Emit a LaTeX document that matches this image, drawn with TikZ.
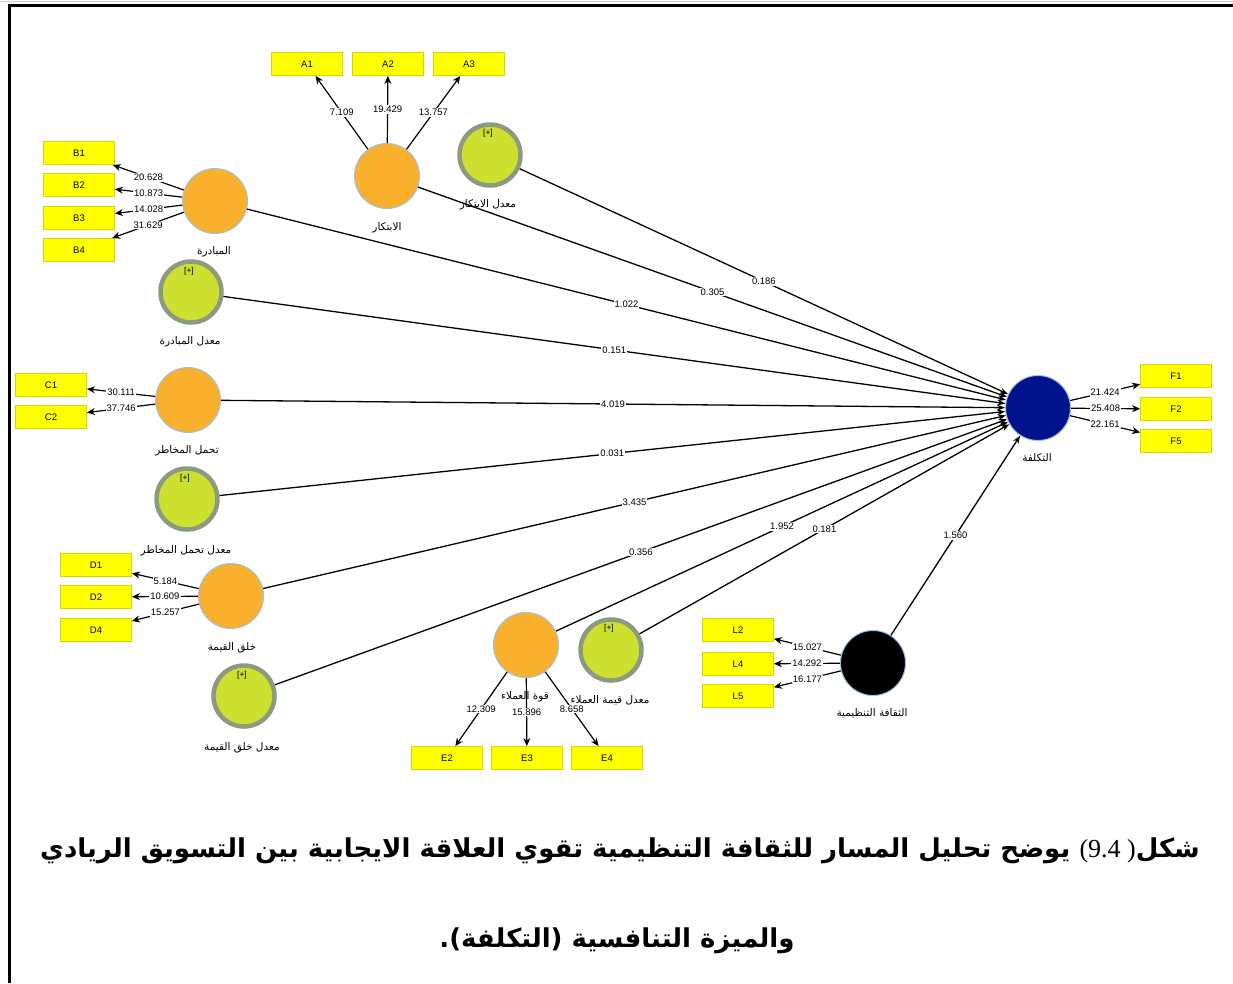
\documentclass[tikz,border=0pt]{standalone}
\usepackage{fontspec}
\setmainfont{Liberation Sans}
\newfontfamily\arabicfont[Script=Arabic]{DejaVu Sans}
\newfontfamily\numserif{Liberation Serif}
\TeXXeTstate=1
\usetikzlibrary{arrows.meta}

\definecolor{boxyellow}{HTML}{FFFF00}
\definecolor{boxedge}{HTML}{D6D600}
\definecolor{lvorange}{HTML}{F9B02C}
\definecolor{lvedge}{HTML}{9CC3E5}
\definecolor{modgreen}{HTML}{CDDF2F}
\definecolor{modring}{HTML}{8C9A80}
\definecolor{navy}{HTML}{00138C}

\tikzset{
  ind/.style={draw=boxedge, fill=boxyellow, line width=0.9pt, minimum width=71pt,
    minimum height=23pt, inner sep=0pt, font=\fontsize{9.5}{10}\selectfont},
  lvbase/.style={circle, inner sep=0pt},
  lv/.style={lvbase, minimum size=65pt, fill=lvorange, draw=lvedge, line width=1pt},
  modc/.style={lvbase, minimum size=61pt, fill=modgreen, draw=modring, line width=4.5pt},
  endo/.style={lvbase, minimum size=65pt, fill=navy, draw=lvedge, line width=1pt},
  culture/.style={lvbase, minimum size=65pt, fill=black, draw=lvedge, line width=1pt},
  num/.style={fill=white, inner sep=1pt, font=\fontsize{9.5}{10}\selectfont},
  arl/.style={font=\arabicfont\fontsize{10.5}{11}\selectfont, inner sep=0pt},
  plus/.style={font=\fontsize{8.5}{9}\selectfont, inner sep=0pt},
  load/.style={line width=1.2pt, -{Stealth[length=8pt,width=7pt]}},
  pathc/.style={line width=1.3pt, -{Stealth[length=8pt,width=6pt]}},
  capt/.style={font=\arabicfont\bfseries\fontsize{26}{30}\selectfont, inner sep=0pt},
}

\begin{document}
\begin{tikzpicture}[x=1pt,y=-1pt]
\useasboundingbox (0,0) rectangle (1233,983);
\fill[white] (0,0) rectangle (1233,983);

% frame
\draw[gray!40, line width=1pt] (0,1.5) -- (1233,1.5);
\draw[black, line width=3pt] (8,5.5) -- (1233,5.5);
\draw[black, line width=3pt] (9.5,4) -- (9.5,983);

% constructs
\node[lv]      (A)  at (387,176) {};
\node[modc]    (mA) at (490,155) {};
\node[lv]      (B)  at (215,201) {};
\node[modc]    (mB) at (191,292) {};
\node[lv]      (C)  at (188,400) {};
\node[modc]    (mC) at (187,499) {};
\node[lv]      (D)  at (231,596) {};
\node[modc]    (mD) at (244,696) {};
\node[lv]      (E)  at (526,645) {};
\node[modc]    (mE) at (611,650) {};
\node[culture] (L)  at (873,663) {};
\node[endo]    (T)  at (1038,408) {};

% [+] marks on the interaction terms
\node[plus] (pA) at (488,133) {[+]};
\node[plus] (pB) at (189,271) {[+]};
\node[plus] (pC) at (185,478) {[+]};
\node[plus] (pD) at (242,675) {[+]};
\node[plus] (pE) at (609,628) {[+]};

% construct names
\node[arl] (nA)  at (387,228) {\beginR الابتكار\endR};
\node[arl] (nmA) at (488,205) {\beginR معدل الابتكار\endR};
\node[arl] (nB)  at (214,252) {\beginR المبادرة\endR};
\node[arl] (nmB) at (190,342) {\beginR معدل المبادرة\endR};
\node[arl] (nC)  at (187,451) {\beginR تحمل المخاطر\endR};
\node[arl] (nmC) at (186,551) {\beginR معدل تحمل المخاطر\endR};
\node[arl] (nD)  at (232,648) {\beginR خلق القيمة\endR};
\node[arl] (nmD) at (242,748) {\beginR معدل خلق القيمة\endR};
\node[arl] (nE)  at (525,697) {\beginR قوة العملاء\endR};
\node[arl] (nmE) at (610,700) {\beginR معدل قيمة العملاء\endR};
\node[arl] (nL)  at (872,713) {\beginR الثقافة التنظيمية\endR};
\node[arl] (nT)  at (1037,458) {\beginR التكلفة\endR};

% indicators
\node[ind] (A1) at (307,64) {A1};
\node[ind] (A2) at (388,64) {A2};
\node[ind] (A3) at (469,64) {A3};
\node[ind] (B1) at (79,153) {B1};
\node[ind] (B2) at (79,185) {B2};
\node[ind] (B3) at (79,218) {B3};
\node[ind] (B4) at (79,250) {B4};
\node[ind] (C1) at (51,385) {C1};
\node[ind] (C2) at (51,417) {C2};
\node[ind] (D1) at (96,565) {D1};
\node[ind] (D2) at (96,597) {D2};
\node[ind] (D4) at (96,630) {D4};
\node[ind] (E2) at (447,758) {E2};
\node[ind] (E3) at (527,758) {E3};
\node[ind] (E4) at (607,758) {E4};
\node[ind] (L2) at (738,630) {L2};
\node[ind] (L4) at (738,664) {L4};
\node[ind] (L5) at (738,696) {L5};
\node[ind] (F1) at (1176,376) {F1};
\node[ind] (F2) at (1176,409) {F2};
\node[ind] (F5) at (1176,441) {F5};

% structural paths
\draw[pathc] (mA) -- node[num]{0.186} (T);
\draw[pathc] (A)  -- node[num]{0.305} (T);
\draw[pathc] (B)  -- node[num]{1.022} (T);
\draw[pathc] (mB) -- node[num]{0.151} (T);
\draw[pathc] (C)  -- node[num]{4.019} (T);
\draw[pathc] (mC) -- node[num]{0.031} (T);
\draw[pathc] (D)  -- node[num]{3.435} (T);
\draw[pathc] (mD) -- node[num]{0.356} (T);
\draw[pathc] (E)  -- node[num]{1.952} (T);
\draw[pathc] (mE) -- node[num]{0.181} (T);
\draw[pathc] (L)  -- node[num]{1.560} (T);

% outer loadings
\draw[load] (A) -- node[num]{7.109} (A1);
\draw[load] (A) -- node[num]{19.429} (A2);
\draw[load] (A) -- node[num]{13.757} (A3);
\draw[load] (B) -- node[num]{20.628} (B1);
\draw[load] (B) -- node[num]{10.873} (B2);
\draw[load] (B) -- node[num]{14.028} (B3);
\draw[load] (B) -- node[num]{31.629} (B4);
\draw[load] (C) -- node[num]{30.111} (C1);
\draw[load] (C) -- node[num]{37.746} (C2);
\draw[load] (D) -- node[num]{5.184} (D1);
\draw[load] (D) -- node[num]{10.609} (D2);
\draw[load] (D) -- node[num]{15.257} (D4);
\draw[load] (E) -- node[num]{12.309} (E2);
\draw[load] (E) -- node[num]{15.896} (E3);
\draw[load] (E) -- node[num]{8.658} (E4);
\draw[load] (L) -- node[num]{15.027} (L2);
\draw[load] (L) -- node[num]{14.292} (L4);
\draw[load] (L) -- node[num]{16.177} (L5);
\draw[load] (T) -- node[num]{21.424} (F1);
\draw[load] (T) -- node[num]{25.408} (F2);
\draw[load] (T) -- node[num]{22.161} (F5);

% caption
\node[capt] (cap1) at (620,851) {\beginR شكل{\numserif\mdseries) \beginL 9.4\endL(} يوضح تحليل المسار للثقافة التنظيمية تقوي العلاقة الايجابية بين التسويق الريادي\endR};
\node[capt] (cap2) at (617,941) {\beginR والميزة التنافسية (التكلفة).\endR};
\end{tikzpicture}
\end{document}
